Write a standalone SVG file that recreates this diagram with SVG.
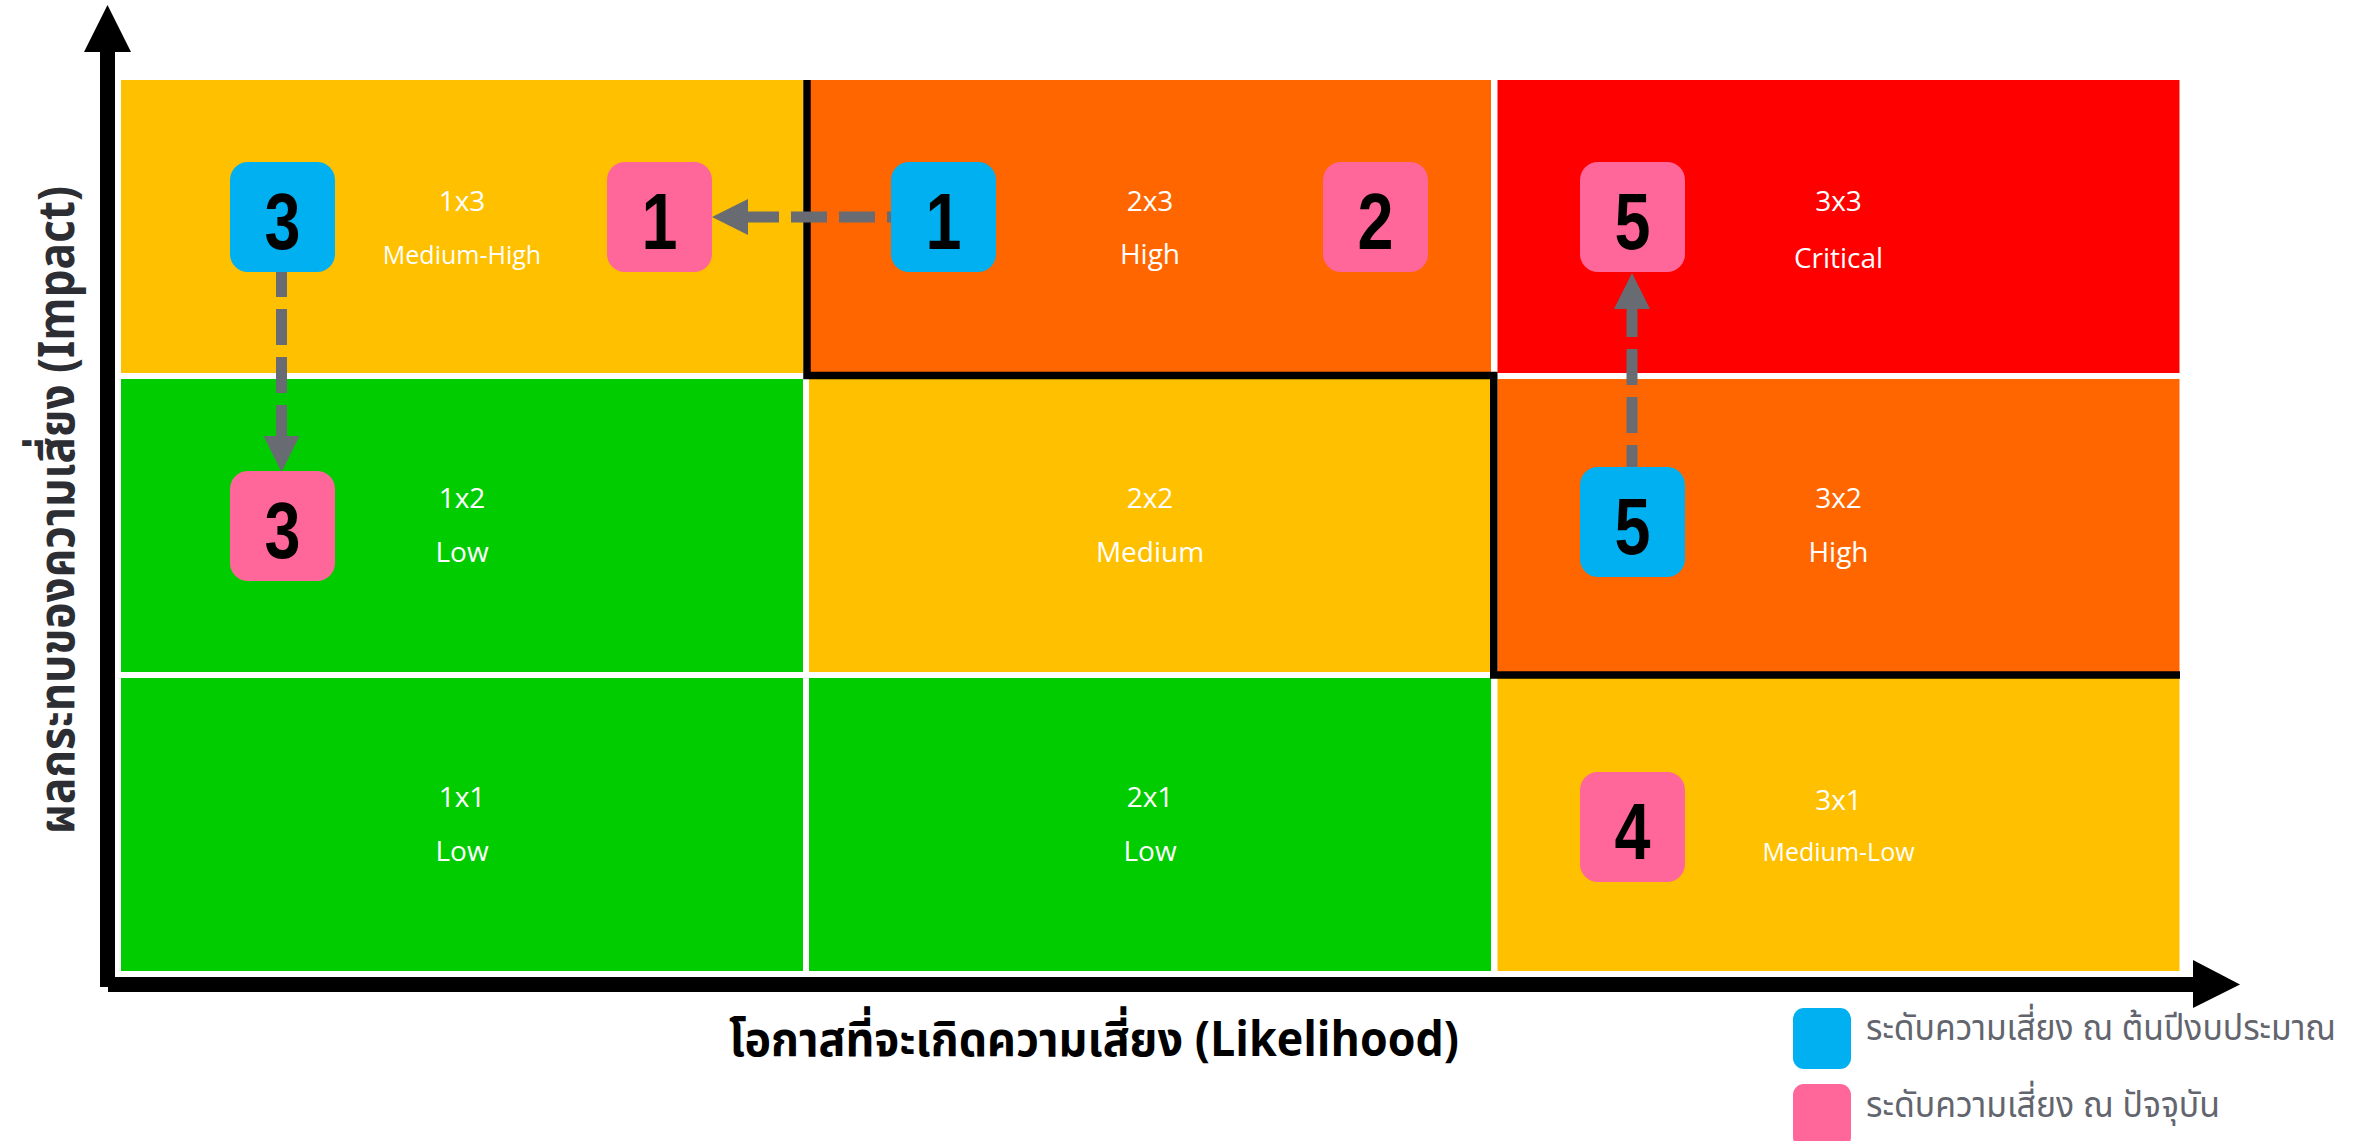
<svg xmlns="http://www.w3.org/2000/svg" width="2361" height="1141" viewBox="0 0 2361 1141">
  <defs>
    <style>
      .cell { stroke: none; }
      .yel { fill: #FFC000; }
      .org { fill: #FF6600; }
      .red { fill: #FF0000; }
      .grn { fill: #00CC00; }
      .ctxt { font-family: "Open Sans", "Noto Sans", sans-serif; fill: #FFFFFF; text-anchor: middle; font-size: 28px; }
      .ctxt-s { font-size: 25px; }
      .badge-blue { fill: #00B0F0; }
      .badge-pink { fill: #FF6699; }
      .num { font-family: "Liberation Sans", Arial, sans-serif; font-weight: bold; font-size: 80px; fill: #000000; text-anchor: middle; }
      .conn { fill: none; stroke: #696B73; stroke-width: 11; stroke-dasharray: 36 12; }
      .axis { fill: #000000; }
      .thai { font-family: "Noto Sans Thai", "Noto Sans Thai UI", "Noto Sans", "Tlwg Typo", sans-serif; }
      .legtxt { font-size: 36px; fill: #62656E; }
    </style>
    <marker id="ah" markerUnits="userSpaceOnUse" markerWidth="36" markerHeight="36" refX="0" refY="18" orient="auto">
      <path d="M0,0 L36,18 L0,36 Z" fill="#696B73"/>
    </marker>
  </defs>

  <rect x="0" y="0" width="2361" height="1141" fill="#FFFFFF"/>

  <!-- grid cells -->
  <g id="cells">
    <rect class="cell yel" x="121" y="80" width="682" height="293"/>
    <rect class="cell org" x="809" y="80" width="682" height="293"/>
    <rect class="cell red" x="1497.5" y="80" width="682" height="293"/>
    <rect class="cell grn" x="121" y="379" width="682" height="293"/>
    <rect class="cell yel" x="809" y="379" width="682" height="293"/>
    <rect class="cell org" x="1497.5" y="379" width="682" height="293"/>
    <rect class="cell grn" x="121" y="678" width="682" height="293"/>
    <rect class="cell grn" x="809" y="678" width="682" height="293"/>
    <rect class="cell yel" x="1497.5" y="678" width="682" height="293"/>
  </g>

  <!-- cell labels -->
  <g id="cell-labels">
    <text class="ctxt" x="462" y="211">1x3</text>
    <text class="ctxt ctxt-s" x="462" y="264">Medium-High</text>
    <text class="ctxt" x="1150" y="211">2x3</text>
    <text class="ctxt" x="1150" y="264">High</text>
    <text class="ctxt" x="1838.5" y="211">3x3</text>
    <text class="ctxt" x="1838.5" y="268">Critical</text>
    <text class="ctxt" x="462" y="508">1x2</text>
    <text class="ctxt" x="462" y="562">Low</text>
    <text class="ctxt" x="1150" y="508">2x2</text>
    <text class="ctxt" x="1150" y="562">Medium</text>
    <text class="ctxt" x="1838.5" y="508">3x2</text>
    <text class="ctxt" x="1838.5" y="562">High</text>
    <text class="ctxt" x="462" y="807">1x1</text>
    <text class="ctxt" x="462" y="861">Low</text>
    <text class="ctxt" x="1150" y="807">2x1</text>
    <text class="ctxt" x="1150" y="861">Low</text>
    <text class="ctxt" x="1838.5" y="810">3x1</text>
    <text class="ctxt ctxt-s" x="1838.5" y="861">Medium-Low</text>
  </g>

  <!-- high risk boundary -->
  <g id="boundary">
    <path d="M807,80 V375.5 H1493.75 V675 H2180" fill="none" stroke="#000000" stroke-width="7.5"/>
  </g>

  <!-- axes -->
  <g id="axes">
    <rect class="axis" x="100" y="50" width="15" height="937"/>
    <polygon class="axis" points="107.5,5 84,52 131,52"/>
    <rect class="axis" x="108" y="977" width="2087" height="15"/>
    <polygon class="axis" points="2193,960 2240,984.5 2193,1008"/>
  </g>

  <!-- connectors -->
  <g id="connectors">
    <path class="conn" d="M891,217 H748" stroke-dashoffset="32" marker-end="url(#ah)"/>
    <path class="conn" d="M281.5,272 V436" stroke-dashoffset="11" marker-end="url(#ah)"/>
    <path class="conn" d="M1632,467 V309" stroke-dashoffset="14" marker-end="url(#ah)"/>
  </g>

  <!-- nodes -->
  <g id="node-b3">
    <rect class="badge-blue" x="230" y="162" width="105" height="110" rx="18"/>
    <text class="num" x="282.5" y="249" textLength="36" lengthAdjust="spacingAndGlyphs">3</text>
  </g>
  <g id="node-p1">
    <rect class="badge-pink" x="607" y="162" width="105" height="110" rx="18"/>
    <text class="num" x="659.5" y="249" textLength="36" lengthAdjust="spacingAndGlyphs">1</text>
  </g>
  <g id="node-b1">
    <rect class="badge-blue" x="891" y="162" width="105" height="110" rx="18"/>
    <text class="num" x="943.5" y="249" textLength="36" lengthAdjust="spacingAndGlyphs">1</text>
  </g>
  <g id="node-p2">
    <rect class="badge-pink" x="1323" y="162" width="105" height="110" rx="18"/>
    <text class="num" x="1375.5" y="249" textLength="36" lengthAdjust="spacingAndGlyphs">2</text>
  </g>
  <g id="node-p5">
    <rect class="badge-pink" x="1580" y="162" width="105" height="110" rx="18"/>
    <text class="num" x="1632.5" y="249" textLength="36" lengthAdjust="spacingAndGlyphs">5</text>
  </g>
  <g id="node-p3">
    <rect class="badge-pink" x="230" y="471" width="105" height="110" rx="18"/>
    <text class="num" x="282.5" y="558" textLength="36" lengthAdjust="spacingAndGlyphs">3</text>
  </g>
  <g id="node-b5">
    <rect class="badge-blue" x="1580" y="467" width="105" height="110" rx="18"/>
    <text class="num" x="1632.5" y="554" textLength="36" lengthAdjust="spacingAndGlyphs">5</text>
  </g>
  <g id="node-p4">
    <rect class="badge-pink" x="1580" y="772" width="105" height="110" rx="18"/>
    <text class="num" x="1632.5" y="859" textLength="36" lengthAdjust="spacingAndGlyphs">4</text>
  </g>

  <!-- axis labels -->
  <g id="axis-labels">
    <text class="thai" x="1094" y="1056" font-size="48" font-weight="bold" fill="#000000" text-anchor="middle" textLength="730" lengthAdjust="spacingAndGlyphs">โอกาสที่จะเกิดความเสี่ยง (Likelihood)</text>
    <text class="thai" transform="translate(74,510) rotate(-90)" x="0" y="0" font-size="50" font-weight="bold" fill="#2D2E33" text-anchor="middle" textLength="648" lengthAdjust="spacingAndGlyphs">ผลกระทบของความเสี่ยง (Impact)</text>
  </g>

  <!-- legend -->
  <g id="legend">
    <rect class="badge-blue" x="1793" y="1008" width="58" height="61" rx="11"/>
    <text class="thai legtxt" x="1866" y="1040" textLength="470" lengthAdjust="spacingAndGlyphs">ระดับความเสี่ยง ณ ต้นปีงบประมาณ</text>
    <rect class="badge-pink" x="1793" y="1084" width="58" height="64" rx="11"/>
    <text class="thai legtxt" x="1866" y="1117" textLength="354" lengthAdjust="spacingAndGlyphs">ระดับความเสี่ยง ณ ปัจจุบัน</text>
  </g>
</svg>
